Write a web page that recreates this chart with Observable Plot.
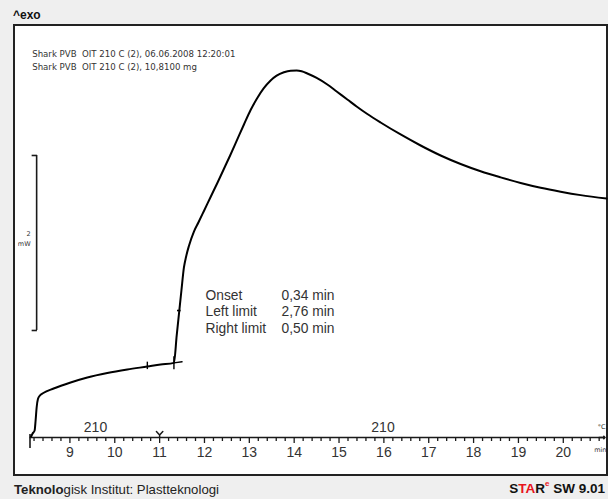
<!DOCTYPE html>
<html><head><meta charset="utf-8">
<script src="https://cdn.jsdelivr.net/npm/d3@7"></script>
<script src="https://cdn.jsdelivr.net/npm/@observablehq/plot@0.6"></script>
<style>
html,body{margin:0;padding:0;background:#efefef;}
#page{position:relative;width:608px;height:499px;background:#efefef;overflow:hidden;font-family:"Liberation Sans",Arial,Helvetica,sans-serif;}
#exo{position:absolute;left:13px;top:8px;font-weight:bold;font-size:12px;line-height:normal;color:#111;}
#box{position:absolute;left:13px;top:24px;width:591px;height:448px;border:2px solid #222;background:#fff;}
#box svg{display:block;}
#foot-left{position:absolute;left:14px;top:482px;font-size:13.2px;line-height:normal;color:#222;}
#foot-right{position:absolute;right:3px;top:481px;font-size:13.5px;font-weight:bold;line-height:normal;color:#111;}
.red{color:#e8141b;}
sup{font-size:8px;vertical-align:top;position:relative;top:-2px;}
</style></head>
<body><div id="page">
<div id="exo">^exo</div>
<div id="box"></div>
<div id="foot-left"><b>Teknolo</b>gisk Institut: Plastteknologi</div>
<div id="foot-right">S<span class="red">TA</span>R<sup class="red">e</sup> SW 9.01</div>
</div>
<script>
// ---- data ----
const time = [8.135, 8.168, 8.213, 8.235, 8.258, 8.287, 8.331, 8.407, 8.637, 9.016, 9.388, 9.834, 10.280, 10.726, 11.022, 11.319,
  11.381, 11.439, 11.486, 11.542, 11.591, 11.653, 11.765, 11.870, 11.988, 12.137, 12.287, 12.427, 12.572, 12.717, 12.880,
  13.029, 13.178, 13.319, 13.475, 13.609, 13.771, 13.921, 14.055, 14.166, 14.293, 14.501, 14.739, 14.947, 15.185, 15.392,
  15.631, 15.927, 16.373, 16.819, 17.265, 17.711, 18.157, 18.603, 19.049, 19.495, 19.941, 20.387, 20.967];
const heatFlow = [0.011, 0.046, 0.080, 0.194, 0.343, 0.440, 0.480, 0.509, 0.560, 0.629, 0.686, 0.737, 0.777, 0.811, 0.834, 0.853,
  1.166, 1.451, 1.680, 1.943, 2.069, 2.189, 2.354, 2.463, 2.589, 2.749, 2.909, 3.063, 3.223, 3.389, 3.577,
  3.743, 3.880, 3.989, 4.080, 4.135, 4.174, 4.192, 4.194, 4.185, 4.160, 4.109, 4.034, 3.954, 3.863, 3.783,
  3.697, 3.600, 3.463, 3.337, 3.223, 3.126, 3.043, 2.973, 2.909, 2.854, 2.809, 2.770, 2.731];

const timeRange = [8.11, 20.93];                 // min
const majorTicks = [9, 10, 11, 12, 13, 14, 15, 16, 17, 18, 19, 20];
const minorTicks = [8.2, 8.4, 8.6, 8.8, 9.2, 9.4, 9.6, 9.8, 10.2, 10.4, 10.6, 10.8, 11.2, 11.4, 11.6, 11.8,
  12.2, 12.4, 12.6, 12.8, 13.2, 13.4, 13.6, 13.8, 14.2, 14.4, 14.6, 14.8, 15.2, 15.4, 15.6, 15.8,
  16.2, 16.4, 16.6, 16.8, 17.2, 17.4, 17.6, 17.8, 18.2, 18.4, 18.6, 18.8, 19.2, 19.4, 19.6, 19.8, 20.2, 20.4, 20.6, 20.8];
const tempTimes = [9.57, 15.98];
const tempLabels = ["210", "210"];
const markerTimes = [11.0];

const scaleBar = [2];                            // mW
const headerLines = ["Shark PVB  OIT 210 C (2), 06.06.2008 12:20:01", "Shark PVB  OIT 210 C (2), 10,8100 mg"];
const resultNames = ["Onset", "Left limit", "Right limit"];
const resultValues = ["0,34 min", "2,76 min", "0,50 min"];

// evaluation construction points (time, heat flow)
const onsetPoint = {t: 11.319, q: 0.853};
const leftLimitPoint = {t: 10.726, q: 0.811};
const rightLimitPoint = {t: 11.439, q: 1.451};
const baseSlope = 0.067;   // mW/min

// ---- build ----
const curve = time.map((t, i) => ({t, q: heatFlow[i]}));
const baseExt = [onsetPoint, {t: 11.50, q: onsetPoint.q + baseSlope * (11.50 - onsetPoint.t)}];
const barX = 8.258, barLow = 1.223;

const yShape = {
  draw(ctx, l) {
    ctx.moveTo(0, 0); ctx.lineTo(0, -l * 0.4);
    ctx.moveTo(-3.2, -l); ctx.lineTo(0, -l * 0.4); ctx.lineTo(3.2, -l);
  }
};

const ink = "#1a1a1a", txt = "#333";
const plot = Plot.plot({
  width: 591, height: 448,
  marginLeft: 14.5, marginRight: 1.5, marginTop: 0, marginBottom: 37,
  x: {domain: timeRange, axis: null},
  y: {domain: [0, 4.697], axis: null},
  style: {background: "white", fontFamily: "'Liberation Sans', Arial, Helvetica, sans-serif", overflow: "visible"},
  marks: [
    // header info
    Plot.text([headerLines.join("\n")], {text: d => d, frameAnchor: "top-left", dx: 2.2, dy: 20.7, lineAnchor: "top",
      textAnchor: "start", fontFamily: "'DejaVu Sans', Verdana, sans-serif", fontSize: 8.6, lineHeight: 1.55, fill: txt}),
    // scale bar bracket
    Plot.ruleX(scaleBar, {x: barX, y1: barLow, y2: d => barLow + d, stroke: ink, strokeWidth: 1.6}),
    Plot.ruleY(scaleBar.flatMap(d => [barLow, barLow + d]), {y: d => d, x1: barX, x2: barX, insetLeft: -4.5, insetRight: -0.8, stroke: ink, strokeWidth: 1.6}),
    Plot.text(scaleBar, {x: barX, y: d => barLow + d / 2, text: d => `${d}\nmW`, dx: -6, dy: -5, textAnchor: "end",
      lineAnchor: "middle", fontFamily: "'DejaVu Sans', Verdana, sans-serif", fontSize: 6.5, lineHeight: 1.6, fill: txt}),
    // axis
    Plot.ruleY([0], {x1: timeRange[0], x2: timeRange[1], stroke: ink, strokeWidth: 1.6}),
    Plot.ruleX([timeRange[0]], {x: d => d, y1: 0, y2: 0, insetTop: -3, insetBottom: -11, stroke: ink, strokeWidth: 1.6}),
    Plot.axisX(minorTicks, {anchor: "bottom", tickSize: 4, tickFormat: () => "", stroke: ink, strokeWidth: 1.3, label: null}),
    Plot.axisX(majorTicks, {anchor: "bottom", tickSize: 6, tickPadding: 3.5, tickFormat: d => String(d), fontSize: 14,
      fill: txt, stroke: ink, strokeWidth: 1.3, label: null}),
    Plot.vector([timeRange[1]], {x: d => d, y: 0, rotate: 90, length: 6, anchor: "end", shape: "arrow", stroke: ink, strokeWidth: 1.6}),
    Plot.vector(markerTimes, {x: d => d, y: 0, length: 6, anchor: "start", shape: yShape, stroke: ink, strokeWidth: 1.5}),
    Plot.text(tempLabels, {x: (d, i) => tempTimes[i], y: 0, text: d => d, dy: -5.3, lineAnchor: "bottom", fontSize: 14, fill: txt}),
    Plot.text(["°C"], {text: d => d, frameAnchor: "bottom-right", dx: 0.5, dy: -11, textAnchor: "end", lineAnchor: "middle",
      fontFamily: "'DejaVu Sans', Verdana, sans-serif", fontSize: 6.5, fill: txt}),
    Plot.text(["min"], {text: d => d, frameAnchor: "bottom-right", dx: 1.5, dy: 12, textAnchor: "end", lineAnchor: "middle",
      fontFamily: "'DejaVu Sans', Verdana, sans-serif", fontSize: 6.5, fill: txt}),
    // curve
    Plot.line(curve, {x: "t", y: "q", stroke: "#000", strokeWidth: 2, curve: "monotone-x"}),
    // evaluation construction
    Plot.line(baseExt, {x: "t", y: "q", stroke: "#000", strokeWidth: 1.4}),
    Plot.ruleX([onsetPoint], {x: "t", y1: d => d.q - 0.08, y2: d => d.q + 0.07, stroke: "#000", strokeWidth: 1.4}),
    Plot.ruleX([leftLimitPoint], {x: "t", y1: d => d.q - 0.035, y2: d => d.q + 0.05, stroke: "#000", strokeWidth: 1.4}),
    Plot.ruleY([rightLimitPoint], {y: "q", x1: "t", x2: "t", insetLeft: -1.8, insetRight: -1.8, stroke: "#000", strokeWidth: 1.6}),
    // results
    Plot.text([resultNames.join("\n")], {text: d => d, frameAnchor: "top-left", dx: 175.5, dy: 262.3, lineAnchor: "top",
      textAnchor: "start", fontSize: 13.8, lineHeight: 1.17, fill: txt}),
    Plot.text([resultValues.join("\n")], {text: d => d, frameAnchor: "top-left", dx: 251.5, dy: 262.3, lineAnchor: "top",
      textAnchor: "start", fontSize: 13.8, lineHeight: 1.17, fill: txt})
  ]
});
document.getElementById("box").appendChild(plot);
</script>
</body></html>
